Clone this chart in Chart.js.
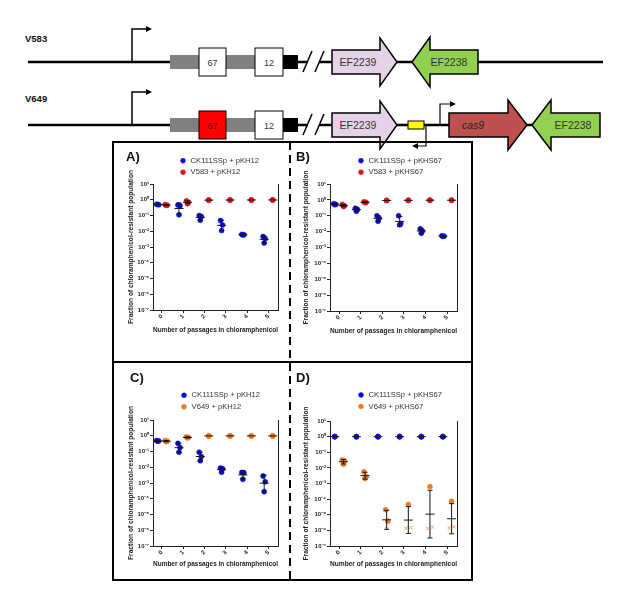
<!DOCTYPE html>
<html>
<head>
<meta charset="utf-8">
<script src="https://cdn.jsdelivr.net/npm/chart.js@4.4.0/dist/chart.umd.min.js"></script>
<style>
  html, body { margin: 0; padding: 0; background: #fff; }
  #page { position: relative; width: 617px; height: 599px; overflow: hidden; font-family: "Liberation Sans", Arial, sans-serif; }
  #page svg, #page canvas, .tag { position: absolute; }
  .tag { font-weight: bold; font-size: 13px; line-height: 13px; color: #111; }
</style>
</head>
<body>
<div id="page">
  <svg width="617" height="599" viewBox="0 0 617 599" font-family="Liberation Sans, Arial, sans-serif">
    <!-- V583 locus -->
    <text x="25" y="41.5" font-size="9.5" font-weight="bold" fill="#111">V583</text>
    <line x1="28" y1="62" x2="308" y2="62" stroke="#000" stroke-width="2.6"/>
    <line x1="319" y1="62" x2="603" y2="62" stroke="#000" stroke-width="2.6"/>
    <path d="M132 62 V29 H146" fill="none" stroke="#000" stroke-width="1.5"/>
    <polygon points="146,26 152,29 146,32" fill="#000"/>
    <rect x="170" y="55" width="113" height="14" fill="#808080"/>
    <rect x="199" y="48" width="27" height="28" fill="#fff" stroke="#000" stroke-width="1"/>
    <text x="212.5" y="65.5" font-size="9" text-anchor="middle" fill="#333">67</text>
    <rect x="255" y="48" width="28" height="28" fill="#fff" stroke="#000" stroke-width="1"/>
    <text x="269" y="65.5" font-size="9" text-anchor="middle" fill="#333">12</text>
    <rect x="283" y="55" width="15" height="14" fill="#000"/>
    <line x1="303" y1="72" x2="312" y2="51" stroke="#000" stroke-width="1.5"/>
    <line x1="315" y1="72" x2="324" y2="51" stroke="#000" stroke-width="1.5"/>
    <polygon points="332,50 380,50 380,38 397,62 380,86 380,74 332,74" fill="#e6d2e8" stroke="#000" stroke-width="1.5"/>
    <text x="358" y="66" font-size="10.5" text-anchor="middle" fill="#333">EF2239</text>
    <polygon points="412,62 430,37 430,50 478,50 478,74 430,74 430,87" fill="#92d050" stroke="#000" stroke-width="1.5"/>
    <text x="449" y="66" font-size="10.5" text-anchor="middle" fill="#333">EF2238</text>

    <!-- V649 locus -->
    <text x="25" y="101.5" font-size="9.5" font-weight="bold" fill="#111">V649</text>
    <line x1="28" y1="125" x2="308" y2="125" stroke="#000" stroke-width="2.6"/>
    <line x1="319" y1="125" x2="600" y2="125" stroke="#000" stroke-width="2.6"/>
    <path d="M132 125 V92 H146" fill="none" stroke="#000" stroke-width="1.5"/>
    <polygon points="146,89 152,92 146,95" fill="#000"/>
    <rect x="170" y="118" width="113" height="14" fill="#808080"/>
    <rect x="199" y="111" width="27" height="28" fill="#ff0000" stroke="#000" stroke-width="1"/>
    <text x="212.5" y="128.5" font-size="9" text-anchor="middle" fill="#5a0000">67</text>
    <rect x="255" y="111" width="28" height="28" fill="#fff" stroke="#000" stroke-width="1"/>
    <text x="269" y="128.5" font-size="9" text-anchor="middle" fill="#333">12</text>
    <rect x="283" y="118" width="15" height="14" fill="#000"/>
    <line x1="303" y1="135" x2="312" y2="114" stroke="#000" stroke-width="1.5"/>
    <line x1="315" y1="135" x2="324" y2="114" stroke="#000" stroke-width="1.5"/>
    <polygon points="332,113 380,113 380,101 397,125 380,149 380,137 332,137" fill="#e6d2e8" stroke="#000" stroke-width="1.5"/>
    <text x="358" y="129" font-size="10.5" text-anchor="middle" fill="#333">EF2239</text>
    <rect x="408" y="121" width="16" height="8" fill="#ffff00" stroke="#000" stroke-width="1"/>
    <path d="M426 125 V146 H418" fill="none" stroke="#000" stroke-width="1.2"/>
    <polygon points="418,143 412,146 418,149" fill="#000"/>
    <path d="M440 125 V104 H450" fill="none" stroke="#000" stroke-width="1.2"/>
    <polygon points="450,101 456,104 450,107" fill="#000"/>
    <polygon points="449,113 508,113 508,100 527,125 508,150 508,137 449,137" fill="#c0504d" stroke="#000" stroke-width="1.5"/>
    <text x="473" y="129" font-size="10.5" font-style="italic" text-anchor="middle" fill="#222">cas9</text>
    <polygon points="532,125 551,100 551,113 600,113 600,137 551,137 551,150" fill="#92d050" stroke="#000" stroke-width="1.5"/>
    <text x="573" y="129" font-size="10.5" text-anchor="middle" fill="#333">EF2238</text>

    <!-- panel frame -->
    <rect x="113" y="142" width="359" height="438" fill="none" stroke="#000" stroke-width="2"/>
    <line x1="113" y1="362" x2="472" y2="362" stroke="#000" stroke-width="2"/>
    <line x1="290" y1="142" x2="290" y2="580" stroke="#000" stroke-width="2" stroke-dasharray="8,5"/>
  </svg>

  <canvas id="chartA" width="173" height="216" style="left:115px;top:144px"></canvas>
  <canvas id="chartB" width="178" height="216" style="left:292px;top:144px"></canvas>
  <canvas id="chartC" width="173" height="214" style="left:115px;top:364px"></canvas>
  <canvas id="chartD" width="178" height="214" style="left:292px;top:364px"></canvas>

  <div class="tag" style="left:126px;top:150px">A)</div>
  <div class="tag" style="left:296px;top:150px">B)</div>
  <div class="tag" style="left:130px;top:371px">C)</div>
  <div class="tag" style="left:296px;top:371px">D)</div>
</div>

<script>
// shared axes
const passes = [0, 1, 2, 3, 4, 5];
const yTickValues = [1e1, 1e0, 1e-1, 1e-2, 1e-3, 1e-4, 1e-5, 1e-6, 1e-7];
const yTickLabels = ['10¹', '10⁰', '10⁻¹', '10⁻²', '10⁻³', '10⁻⁴', '10⁻⁵', '10⁻⁶', '10⁻⁷'];

// A) pKH12 in CK111SSp vs V583 (3 replicates per passage)
const seriesA = ['CK111SSp + pKH12', 'V583 + pKH12'];
const ckA = [[0.52, 0.48, 0.5], [0.47, 0.42, 0.11], [0.1, 0.085, 0.05], [0.048, 0.025, 0.011], [0.0063, 0.006, 0.0058], [0.0046, 0.0034, 0.0018]];
const v583A = [[0.5, 0.45, 0.43], [0.85, 0.7, 0.55], [0.95, 0.95, 0.95], [0.96, 0.96, 0.96], [0.97, 0.97, 0.97], [0.97, 0.97, 0.97]];

// B) pKHS67 in CK111SSp vs V583
const seriesB = ['CK111SSp + pKHS67', 'V583 + pKHS67'];
const ckB = [[0.58, 0.52, 0.5], [0.3, 0.25, 0.19], [0.1, 0.07, 0.045], [0.1, 0.032, 0.027], [0.015, 0.011, 0.008], [0.0055, 0.0052, 0.005]];
const v583B = [[0.52, 0.42, 0.38], [0.75, 0.7, 0.66], [0.92, 0.92, 0.92], [0.94, 0.94, 0.94], [0.95, 0.95, 0.95], [0.95, 0.95, 0.95]];

// C) pKH12 in CK111SSp vs V649
const seriesC = ['CK111SSp + pKH12', 'V649 + pKH12'];
const ckC = [[0.5, 0.47, 0.45], [0.33, 0.18, 0.09], [0.09, 0.048, 0.026], [0.009, 0.008, 0.0048], [0.0047, 0.0045, 0.0017], [0.0028, 0.0012, 0.00028]];
const v649C = [[0.5, 0.45, 0.42], [0.85, 0.78, 0.72], [0.98, 0.98, 0.98], [0.98, 0.98, 0.98], [0.98, 0.98, 0.98], [0.98, 0.98, 0.98]];

// D) pKHS67 in CK111SSp vs V649 (x marks = at detection limit)
const seriesD = ['CK111SSp + pKHS67', 'V649 + pKHS67'];
const ckD = [[1, 1, 1], [1, 1, 1], [1, 1, 1], [1, 1, 1], [1, 1, 1], [1, 1, 1]];
const v649D = [[0.032, 0.028, 0.017], [0.0056, 0.0027, 0.0021], [2.1e-5, 3.9e-6], [4.5e-5], [6.3e-4], [7.2e-5]];
const v649DLimit = [[], [], [1.3e-6], [1.4e-6, 1.5e-6], [1.3e-6, 1.6e-6], [1.4e-6, 1.7e-6]];

const BLUE = '#0b0bd8';
const RED = '#e3141b';
const ORANGE = '#ee7b22';
const ORANGE_LIGHT = '#f2a56a';
const INK = '#222';

Chart.defaults.font.family = '"Liberation Sans", Arial, sans-serif';

const jitter = [-0.05, 0.05, 0];
const limitSpread = [-0.11, 0.11];

function toPoints(reps, offset, spread) {
  const out = [];
  reps.forEach((vals, i) => {
    // replicates with the same value sit on top of each other
    const same = vals.every(v => v === vals[0]);
    vals.forEach((v, j) => {
      const dx = (vals.length === 1 || same) ? 0 : spread[j % spread.length];
      out.push({ x: passes[i] + offset + dx, y: v });
    });
  });
  return out;
}

function dotSet(label, reps, offset, color) {
  return {
    label: label,
    data: toPoints(reps, offset, jitter),
    backgroundColor: color,
    borderColor: color,
    borderWidth: 0.5,
    pointRadius: 2.5,
    pointStyle: 'circle',
    showLine: false,
    yAxisID: 'y'
  };
}

// geometric mean +/- geometric SD, like the original figure
function errorBars(groups) {
  return {
    id: 'errorBars',
    afterDatasetsDraw(chart) {
      const { ctx, scales } = chart;
      ctx.save();
      ctx.strokeStyle = '#151515';
      ctx.lineWidth = 1;
      groups.forEach(g => {
        passes.forEach((p, i) => {
          const logs = g.sets.flatMap(s => s[i]).map(Math.log10);
          if (!logs.length) return;
          const n = logs.length;
          const m = logs.reduce((a, b) => a + b, 0) / n;
          const sd = n > 1 ? Math.sqrt(logs.reduce((a, b) => a + (b - m) ** 2, 0) / (n - 1)) : 0;
          const px = scales.x.getPixelForValue(p + g.offset);
          const yc = scales.y.getPixelForValue(Math.pow(10, m));
          ctx.beginPath();
          if (sd > 0.02) {
            const yt = scales.y.getPixelForValue(Math.pow(10, m + sd));
            const yb = scales.y.getPixelForValue(Math.pow(10, m - sd));
            ctx.moveTo(px, yt); ctx.lineTo(px, yb);
            ctx.moveTo(px - 2.5, yt); ctx.lineTo(px + 2.5, yt);
            ctx.moveTo(px - 2.5, yb); ctx.lineTo(px + 2.5, yb);
          }
          ctx.moveTo(px - 4.5, yc); ctx.lineTo(px + 4.5, yc);
          ctx.stroke();
        });
      });
      ctx.restore();
    }
  };
}

// put the legend where the figure has it (marker centre in canvas coords)
const LEG_FONT = 7.6, LEG_PAD = 3.9;
function pinLegend(mx, my) {
  return {
    id: 'pinLegend',
    afterLayout(chart) {
      const lg = chart.legend;
      const left = mx - LEG_PAD - LEG_FONT / 2;
      const top = my - LEG_PAD - LEG_FONT / 2;
      const w = lg.width, h = lg.height;
      lg.left = left; lg.top = top; lg.right = left + w; lg.bottom = top + h;
    }
  };
}

function makePanel(id, datasets, groups, lay) {
  const ctx = document.getElementById(id).getContext('2d');
  return new Chart(ctx, {
    type: 'scatter',
    data: { datasets: datasets },
    options: {
      responsive: false,
      animation: false,
      devicePixelRatio: 1,
      layout: { padding: { left: 0, top: lay.top, right: lay.right, bottom: lay.bottom } },
      scales: {
        x: {
          type: 'linear',
          min: -0.42,
          max: 5.45,
          afterBuildTicks: s => { s.ticks = passes.map(v => ({ value: v })); },
          afterFit: s => { s.height = lay.xh; },
          ticks: { minRotation: 45, maxRotation: 45, autoSkip: false, padding: 0, color: INK, font: { size: 6, weight: 'bold' } },
          grid: { drawOnChartArea: false, tickLength: 3, color: INK },
          border: { color: INK, width: 1 },
          title: { display: true, text: 'Number of passages in chloramphenicol', color: INK, font: { size: 6.8, weight: 'bold' }, padding: { top: 0, bottom: 2 } }
        },
        y: {
          type: 'logarithmic',
          position: 'left',
          min: 1e-7,
          max: 10,
          afterBuildTicks: s => { s.ticks = yTickValues.map(v => ({ value: v })); },
          afterFit: s => { s.width = 38; },
          ticks: { autoSkip: false, padding: 1, color: INK, font: { size: 6, weight: 'bold' }, callback: (v, i) => yTickLabels[i] },
          grid: { drawOnChartArea: false, tickLength: 3, color: INK },
          border: { color: INK, width: 1 },
          title: { display: true, text: 'Fraction of chloramphenicol-resistant population', color: INK, font: { size: 6.6, weight: 'bold' }, padding: { top: lay.yt, bottom: 0 } }
        },
        yr: {
          type: 'logarithmic',
          position: 'right',
          min: 1e-7,
          max: 10,
          afterFit: s => { s.width = 0; },
          ticks: { display: false },
          grid: { display: false, drawTicks: false },
          border: { display: true, color: INK, width: 1 }
        }
      },
      plugins: {
        tooltip: { enabled: false },
        legend: {
          position: 'chartArea',
          align: 'start',
          labels: {
            usePointStyle: true,
            boxHeight: 3.5,
            padding: LEG_PAD,
            color: '#333',
            font: { size: LEG_FONT },
            filter: item => item.datasetIndex < 2
          }
        }
      }
    },
    plugins: [errorBars(groups), pinLegend(lay.mx, lay.my)]
  });
}

makePanel('chartA',
  [dotSet(seriesA[0], ckA, -0.2, BLUE), dotSet(seriesA[1], v583A, 0.2, RED)],
  [{ sets: [ckA], offset: -0.2 }, { sets: [v583A], offset: 0.2 }],
  { top: 40, right: 10, bottom: 24, xh: 26, yt: 12.7, mx: 68, my: 16.7 });

makePanel('chartB',
  [dotSet(seriesB[0], ckB, -0.2, BLUE), dotSet(seriesB[1], v583B, 0.2, RED)],
  [{ sets: [ckB], offset: -0.2 }, { sets: [v583B], offset: 0.2 }],
  { top: 40, right: 13, bottom: 23, xh: 26, yt: 10, mx: 69, my: 16.7 });

makePanel('chartC',
  [dotSet(seriesC[0], ckC, -0.2, BLUE), dotSet(seriesC[1], v649C, 0.2, ORANGE)],
  [{ sets: [ckC], offset: -0.2 }, { sets: [v649C], offset: 0.2 }],
  { top: 56, right: 10, bottom: 8, xh: 24, yt: 12.7, mx: 69, my: 31.3 });

const limitSet = {
  label: 'detection limit',
  data: toPoints(v649DLimit, 0.2, limitSpread),
  pointStyle: 'crossRot',
  borderColor: ORANGE_LIGHT,
  backgroundColor: ORANGE_LIGHT,
  borderWidth: 1,
  pointRadius: 2.4,
  showLine: false,
  yAxisID: 'y'
};

makePanel('chartD',
  [dotSet(seriesD[0], ckD, -0.2, BLUE), dotSet(seriesD[1], v649D, 0.2, ORANGE), limitSet],
  [{ sets: [ckD], offset: -0.2 }, { sets: [v649D, v649DLimit], offset: 0.2 }],
  { top: 57, right: 13, bottom: 8, xh: 24, yt: 10, mx: 69, my: 31 });
</script>
</body>
</html>
